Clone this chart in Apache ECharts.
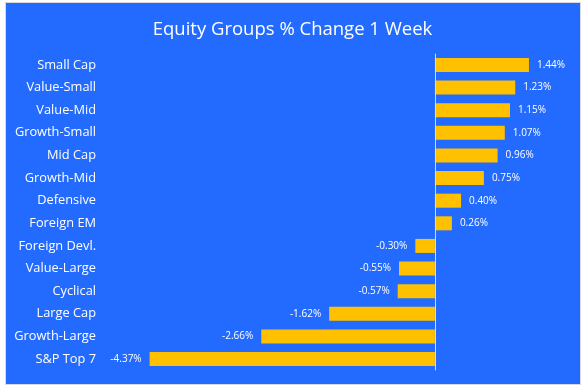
<!DOCTYPE html>
<html><head><meta charset="utf-8">
<script src="https://cdn.jsdelivr.net/npm/echarts@6/dist/echarts.min.js"></script>
<style>html,body{margin:0;padding:0;background:#fff;}#c{width:585px;height:389px;}</style>
</head><body><div id="c"></div>
<script>
const categories = ["Small Cap","Value-Small","Value-Mid","Growth-Small","Mid Cap","Growth-Mid","Defensive","Foreign EM","Foreign Devl.","Value-Large","Cyclical","Large Cap","Growth-Large","S&P Top 7"];
const values = [1.44,1.23,1.15,1.07,0.96,0.75,0.40,0.26,-0.30,-0.55,-0.57,-1.62,-2.66,-4.37];
const titleText = "Equity Groups % Change 1 Week";

const chart = echarts.init(document.getElementById('c'), null, {renderer:'canvas'});
const font = "'Open Sans', 'Noto Sans', sans-serif";
chart.setOption({
  animation:false,
  backgroundColor:'#ffffff',
  graphic:[{type:'rect',z:-10,shape:{x:5.5,y:2.5,width:575,height:382},style:{fill:'#236BFF',stroke:'#D9D9D9',lineWidth:1}}],
  title:{text:titleText,left:'center',top:15,textStyle:{color:'#ffffff',fontSize:18.5,fontWeight:'normal',fontFamily:font}},
  grid:{left:108.5,right:19.5,top:53.7,bottom:18.7},
  xAxis:{type:'value',min:-5,max:2,show:false,splitLine:{show:false}},
  yAxis:{type:'category',data:categories,inverse:true,
    axisLine:{show:false},axisTick:{show:false},
    axisLabel:{color:'#ffffff',fontSize:12.8,fontFamily:font,margin:12.5}},
  series:[{type:'bar',barWidth:14,
    itemStyle:{color:'#FFC000'},
    data:values.map(v=>({value:v,label:{position:v<0?'left':'right'}})),
    label:{show:true,color:'#ffffff',fontSize:10,fontFamily:font,distance:8,
      formatter:p=>p.value.toFixed(2)+'%'},
    markLine:{silent:true,symbol:'none',label:{show:false},
      lineStyle:{color:'#D9D9D9',type:'solid',width:1},data:[{xAxis:0}]}
  }]
});
</script></body></html>
